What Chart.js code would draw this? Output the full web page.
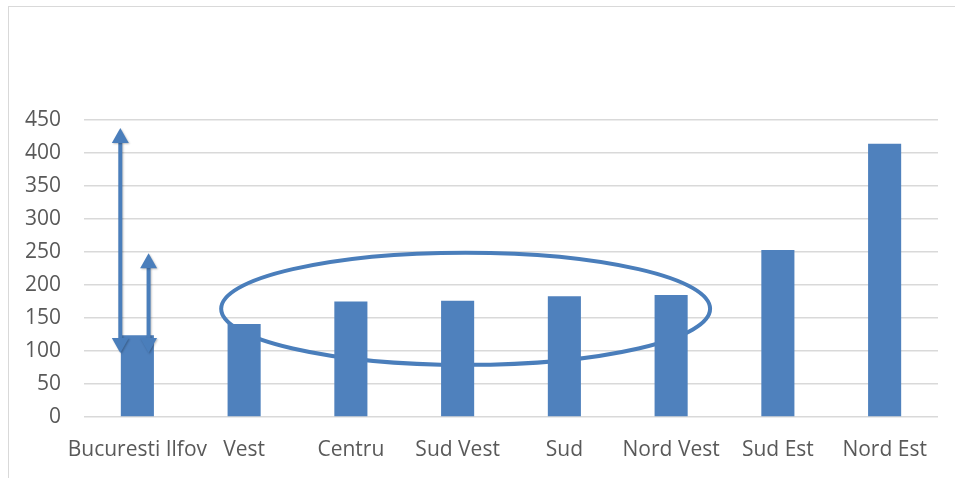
<!DOCTYPE html>
<html>
<head>
<meta charset="utf-8">
<script src="https://cdn.jsdelivr.net/npm/chart.js@4.4.1/dist/chart.umd.min.js"></script>
<style>
    html, body { margin: 0; padding: 0; background: #fff; }
    #wrap { position: relative; width: 955px; height: 478px; overflow: hidden; }
    #frame {
        position: absolute; left: 8px; top: 6px; width: 960px; height: 480px;
        border-left: 1px solid #d9d9d9; border-top: 1px solid #d9d9d9;
        pointer-events: none;
    }
    canvas { position: absolute; left: 0; top: 0; }
</style>
</head>
<body>
<div id="wrap">
    <canvas id="chart" width="955" height="478"></canvas>
    <div id="frame"></div>
</div>
<script>
// chart data
const regions = ['Bucuresti Ilfov', 'Vest', 'Centru', 'Sud Vest', 'Sud', 'Nord Vest', 'Sud Est', 'Nord Est'];
const values = [124, 141, 175, 176, 183, 185, 253, 414];
const yTicks = [0, 50, 100, 150, 200, 250, 300, 350, 400, 450];

const barColor = '#4f81bd';
const shapeColor = '#4a7ebb';
const textColor = '#595959';

// arrow from (x, y1) to (x, y2) with heads on both ends
function drawArrow(ctx, x, yTop, yBottom) {
    const head = 15, half = 8.5;
    ctx.beginPath();
    ctx.moveTo(x, yTop + head - 1);
    ctx.lineTo(x, yBottom - head + 1);
    ctx.stroke();
    ctx.beginPath();
    ctx.moveTo(x, yTop);
    ctx.lineTo(x - half, yTop + head);
    ctx.lineTo(x + half, yTop + head);
    ctx.closePath();
    ctx.fill();
    ctx.beginPath();
    ctx.moveTo(x, yBottom);
    ctx.lineTo(x - half, yBottom - head);
    ctx.lineTo(x + half, yBottom - head);
    ctx.closePath();
    ctx.fill();
}

// ellipse around the middle regions, drawn behind the bars
const ellipsePlugin = {
    id: 'ellipse',
    beforeDatasetsDraw(chart) {
        const { ctx, scales: { x, y } } = chart;
        const step = x.getPixelForValue(1) - x.getPixelForValue(0);
        const cx = x.getPixelForValue(3) + step * 0.075;
        const cy = y.getPixelForValue(164);
        const rx = step * 2.29;
        const ry = Math.abs(y.getPixelForValue(0) - y.getPixelForValue(85));
        ctx.save();
        ctx.strokeStyle = shapeColor;
        ctx.lineWidth = 4;
        ctx.beginPath();
        ctx.ellipse(cx, cy, rx, ry, 0, 0, Math.PI * 2);
        ctx.stroke();
        ctx.restore();
    }
};

// the two arrows on the first bar
const arrowPlugin = {
    id: 'arrows',
    afterDatasetsDraw(chart) {
        const { ctx, scales: { x, y } } = chart;
        const step = x.getPixelForValue(1) - x.getPixelForValue(0);
        const base = x.getPixelForValue(0);
        ctx.save();
        ctx.strokeStyle = shapeColor;
        ctx.fillStyle = shapeColor;
        ctx.lineWidth = 4;
        ctx.shadowColor = 'rgba(0,0,0,0.25)';
        ctx.shadowBlur = 2;
        ctx.shadowOffsetX = 1;
        ctx.shadowOffsetY = 1;
        drawArrow(ctx, base - step * 0.16, y.getPixelForValue(438), y.getPixelForValue(97));
        drawArrow(ctx, base + step * 0.105, y.getPixelForValue(248), y.getPixelForValue(97));
        ctx.restore();
    }
};

const ctx = document.getElementById('chart').getContext('2d');
new Chart(ctx, {
    type: 'bar',
    data: {
        labels: regions,
        datasets: [{
            data: values,
            backgroundColor: barColor,
            categoryPercentage: 1,
            barPercentage: 0.31
        }]
    },
    options: {
        responsive: false,
        animation: false,
        devicePixelRatio: 1,
        layout: { padding: { top: 120, right: 17, left: 0, bottom: 0 } },
        plugins: {
            legend: { display: false },
            tooltip: { enabled: false }
        },
        scales: {
            x: {
                grid: { display: false, drawTicks: false },
                border: { display: false },
                ticks: {
                    color: textColor,
                    font: { family: 'Open Sans', size: 21 },
                    padding: 20,
                    maxRotation: 0,
                    autoSkip: false
                },
                afterFit(scale) { scale.height = 61; }
            },
            y: {
                min: 0,
                max: 450,
                afterBuildTicks(scale) { scale.ticks = yTicks.map(v => ({ value: v })); },
                grid: { color: '#d9d9d9', lineWidth: 1.5, drawTicks: false },
                border: { display: false },
                ticks: {
                    color: textColor,
                    font: { family: 'Open Sans', size: 21 },
                    padding: 23
                },
                afterFit(scale) { scale.width = 84; }
            }
        }
    },
    plugins: [ellipsePlugin, arrowPlugin]
});
</script>
</body>
</html>
